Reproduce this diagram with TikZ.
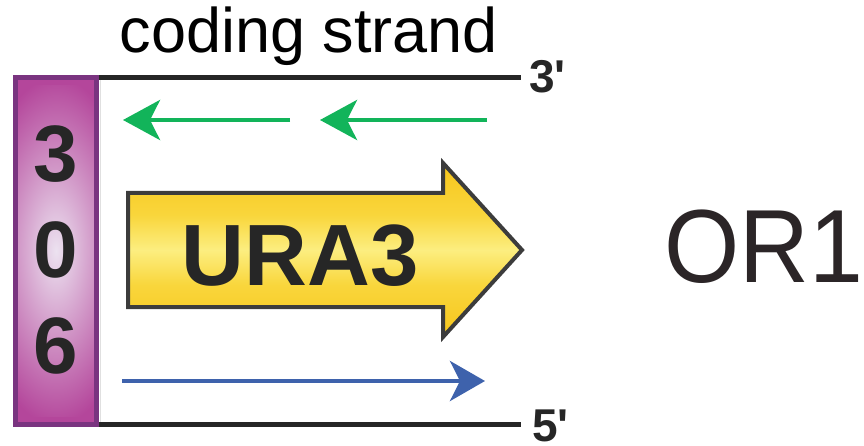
\documentclass[tikz,border=0pt]{standalone}
\usepackage{fontspec}
\setmainfont{Liberation Sans}
\usetikzlibrary{arrows.meta}
\definecolor{magentaA}{RGB}{180,70,155}
\definecolor{lavA}{RGB}{236,226,240}
\definecolor{purpborder}{RGB}{122,52,128}
\definecolor{ydark}{RGB}{247,198,28}
\definecolor{ymid}{RGB}{249,214,60}
\definecolor{ylight}{RGB}{252,238,128}
\definecolor{gborder}{RGB}{60,60,60}
\definecolor{arrgreen}{RGB}{18,180,90}
\definecolor{arrblue}{RGB}{62,98,172}
\definecolor{txtA}{RGB}{38,38,38}
\definecolor{txtB}{RGB}{43,37,39}
\pgfdeclareverticalshading{yellowband}{100bp}{color(0bp)=(ydark); color(25bp)=(ydark); color(40bp)=(ymid); color(50bp)=(ylight); color(60bp)=(ymid); color(75bp)=(ydark); color(100bp)=(ydark)}
\tikzset{
  strandline/.style={line width=5pt, draw=txtA},
  greenarrow/.style={line width=4.5pt, draw=arrgreen, -{Stealth[length=37pt,width=40pt,inset=10pt,fill=arrgreen]}},
  bluearrow/.style={line width=4.5pt, draw=arrblue, -{Stealth[length=35pt,width=40pt,inset=10pt,fill=arrblue]}},
  digit/.style={anchor=base, inner sep=0pt, text=txtA, font=\fontsize{80}{90}\selectfont\bfseries},
  endlabel/.style={anchor=base west, inner sep=0pt, text=txtA, font=\fontsize{46}{50}\selectfont\bfseries},
}
\begin{document}
\begin{tikzpicture}[x=1pt,y=-1pt]
\useasboundingbox (0,0) rectangle (864,446);

% purple box
\node[name=box, rectangle, minimum width=81pt, minimum height=347pt, inner sep=0pt,
      draw=purpborder, line width=5pt, fill=magentaA,
      path picture={\shade[inner color=lavA, outer color=magentaA]
         ([shift={(-80pt,-165pt)}]path picture bounding box.center) rectangle
         ([shift={(80pt,165pt)}]path picture bounding box.center);}]
      at (56,251) {};

\node[digit] (d3) at (56,182) {3};
\node[digit] (d0) at (56,277) {0};
\node[digit] (d6) at (56,373) {6};

% faint edge
\coordinate (fa) at (100.5,80);
\coordinate (fb) at (100.5,422);
\draw[black!12, line width=0.8pt] (fa) -- (fb);

% strands
\coordinate (tl) at (99,78);
\coordinate (tr) at (521,78);
\coordinate (bl) at (99,424.5);
\coordinate (br) at (521,424.5);
\draw[strandline] (tl) -- (tr);
\draw[strandline] (bl) -- (br);
\node[endlabel] (p3) at (529,93) {3\textquotesingle};
\node[endlabel] (p5) at (532,441.5) {5\textquotesingle};

% title
\node[anchor=base, inner sep=0pt, font=\fontsize{63}{70}\selectfont] (title) at (309,53) {coding strand};

% green arrows
\coordinate (g1s) at (290,120);
\coordinate (g1e) at (123,120);
\coordinate (g2s) at (487,120);
\coordinate (g2e) at (320,120);
\draw[greenarrow] (g1s) -- (g1e);
\draw[greenarrow] (g2s) -- (g2e);

% blue arrow
\coordinate (bs) at (122,381);
\coordinate (be) at (485,381);
\draw[bluearrow] (bs) -- (be);

% yellow gene arrow
\shade[draw=gborder, line width=4pt, miter limit=10, shading=yellowband]
  (128,193) -- (443,193) -- (443,163) -- (522,250) -- (443,337) -- (443,307) -- (128,307) -- cycle;
\node[anchor=base, inner sep=0pt, text=txtA, font=\fontsize{87}{95}\selectfont\bfseries] (ura) at (300,285) {URA3};

% OR1
\node[anchor=base west, inner sep=0pt, text=txtB, xscale=0.93, font=\fontsize{104}{110}\selectfont] (or) at (664,282) {OR1\kern-0.18em};
\end{tikzpicture}
\end{document}
